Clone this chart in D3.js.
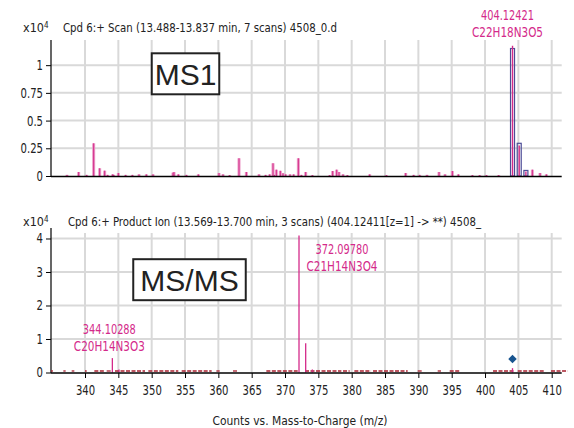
<!DOCTYPE html>
<html>
<head>
<meta charset="utf-8">
<script src="https://cdn.jsdelivr.net/npm/d3@7"></script>
<style>
  body { margin: 0; background: #fff; }
  text { font-family: "Liberation Sans Narrow", "DejaVu Sans Condensed", sans-serif; }
</style>
</head>
<body>
<svg id="chart" width="574" height="428"></svg>
<script>
// x axis (m/z) ticks, shared by both panels
var mzTicks = d3.range(340, 411, 5)
var ms1Ticks = [0, 0.25, 0.5, 0.75, 1]
var ms2Ticks = [0, 1, 2, 3, 4]

// MS1 spectrum, counts in x10^4
var ms1Mz = [337.3, 339.05, 340.25, 341.3, 342.2, 342.95, 343.4, 344.15, 344.3, 345.0,
  346.1, 347.1, 348.1, 349.2, 350.2, 353.2, 353.35, 354.0, 355.2, 357.0,
  360.1, 360.7, 361.7, 363.1, 364.2, 366.1, 367.1, 367.7, 368.2, 368.4,
  368.7, 369.3, 369.7, 370.1, 370.75, 371.3, 372.0, 372.45, 373.1, 374.1,
  376.7, 377.15, 377.75, 378.1, 378.7, 379.35, 382.7, 385.2, 388.1, 389.3,
  390.2, 391.3, 393.1, 394.0, 395.1, 396.0, 398.1, 399.2, 400.2, 402.05,
  407.1, 408.25, 409.2]
var ms1Counts = [0.01, 0.036, 0.01, 0.295, 0.07, 0.048, 0.01, 0.015, 0.01, 0.027,
  0.01, 0.01, 0.015, 0.015, 0.015, 0.03, 0.035, 0.015, 0.01, 0.015,
  0.027, 0.015, 0.008, 0.16, 0.036, 0.015, 0.01, 0.015, 0.115, 0.01,
  0.057, 0.047, 0.025, 0.015, 0.015, 0.015, 0.16, 0.01, 0.036, 0.008,
  0.008, 0.045, 0.057, 0.036, 0.015, 0.008, 0.015, 0.008, 0.027, 0.01,
  0.01, 0.01, 0.036, 0.015, 0.045, 0.015, 0.008, 0.008, 0.008, 0.008,
  0.057, 0.027, 0.015]

// isotope cluster of the compound: predicted (boxes) and found (lines)
var isoMz = [404.124, 405.127, 406.130]
var isoPredicted = [1.15, 0.295, 0.05]
var isoFound = [1.175, 0.275, 0.04]

// MS/MS spectrum, counts in x10^4
var ms2Mz = [344.103, 345.1, 372.098, 373.1, 374.1, 404.12]
var ms2Counts = [0.43, 0.09, 4.09, 0.87, 0.09, 0.13]
var precursorMz = 404.124
var precursorCounts = 0.4

// low baseline noise in the MS/MS trace (m/z ranges)
var noiseFrom = [334.9, 336.75, 338.0, 340.0, 341.4, 343.25, 344.5, 349.5, 354.5, 359.7,
  362.2, 367.2, 373.0, 378.7, 380.4, 383.2, 389.9, 392.9, 394.7, 401.2, 404.9, 409.9]
var noiseTo = [335.2, 337.1, 338.4, 340.25, 343.0, 344.0, 349.0, 354.0, 359.0, 360.2,
  363.0, 371.9, 378.45, 379.7, 382.9, 388.4, 390.7, 393.4, 396.2, 404.4, 408.9, 412.4]

// annotations
var ms1Title = 'Cpd 6:+ Scan (13.488-13.837 min, 7 scans) 4508_0.d'
var ms2Title = 'Cpd 6:+ Product Ion (13.569-13.700 min, 3 scans) (404.12411[z=1] -> **) 4508_'
var ms1Label = ['404.12421', 'C22H18N3O5']
var ms2LabelMz = [372.098, 344.103]
var ms2Labels = [['372.09780', 'C21H14N3O4'], ['344.10288', 'C20H14N3O3']]
var xTitle = 'Counts vs. Mass-to-Charge (m/z)'

var magenta = '#d42a8a'
var pink = '#eb9ac6'
var grid = '#d9d9d9'
var squeeze = 0.8  // the source font is a narrow one

var svg = d3.select('#chart')

var x = d3.scaleLinear().domain([334.9, 411.5]).range([51, 561.7])
var y1 = d3.scaleLinear().domain([0, 1.227]).range([176, 40])
var y2 = d3.scaleLinear().domain([0, 4.313]).range([372.5, 228])

// squeeze a text to the width it has in the picture
function fit (sel, w) {
  sel.attr('textLength', w).attr('lengthAdjust', 'spacingAndGlyphs')
  return sel
}

function drawFrame (y, ticks, top, gridTop) {
  var g = svg.append('g')
  g.selectAll('.vg').data(mzTicks).enter().append('line')
    .attr('x1', d => x(d)).attr('x2', d => x(d))
    .attr('y1', gridTop).attr('y2', y(0))
    .attr('stroke', grid).attr('stroke-width', 2)
  g.selectAll('.hg').data(ticks.slice(1)).enter().append('line')
    .attr('x1', x.range()[0]).attr('x2', x.range()[1])
    .attr('y1', d => y(d)).attr('y2', d => y(d))
    .attr('stroke', grid).attr('stroke-width', 2)

  var ax = g.append('g').attr('transform', 'translate(' + x.range()[0] + ',0)')
    .call(d3.axisLeft(y).tickValues(ticks).tickSize(5).tickPadding(3)
      .tickFormat(d => String(d)))
  ax.select('.domain').remove()
  ax.selectAll('line').attr('stroke', '#000')
  ax.selectAll('text').attr('font-size', 14).attr('fill', '#222')
    .attr('x', -8 / squeeze).attr('transform', 'scale(' + squeeze + ',1)')

  g.append('line').attr('x1', x.range()[0]).attr('x2', x.range()[0])
    .attr('y1', top).attr('y2', y(0) + 0.5).attr('stroke', '#000').attr('stroke-width', 1.2)
  return g
}

function drawTitle (ty, x0, title, w) {
  var t = svg.append('text').attr('x', 23).attr('y', ty).attr('font-size', 12.5).attr('fill', '#222')
  t.append('tspan').text('x10')
  t.append('tspan').attr('dy', -4).attr('font-size', 8).text('4')
  fit(svg.append('text').attr('x', x0).attr('y', ty).attr('font-size', 12.5).attr('fill', '#222').text(title), w)
}

function drawBox (cx, cy, w, h, label) {
  svg.append('rect').attr('x', cx - w / 2).attr('y', cy - h / 2).attr('width', w).attr('height', h)
    .attr('fill', '#fff').attr('stroke', '#222').attr('stroke-width', 2)
  svg.append('text').attr('x', cx).attr('y', cy + 11).attr('text-anchor', 'middle')
    .style('font-family', '"Liberation Sans", Arial, sans-serif')
    .attr('font-size', 30).attr('fill', '#222').text(label)
}

function drawLabel (cx, yTop, lines) {
  fit(svg.append('text').attr('x', cx - 26.5).attr('y', yTop)
    .attr('font-size', 14).attr('fill', magenta).text(lines[0]), 53)
  fit(svg.append('text').attr('x', cx - 35.5).attr('y', yTop + 16.5)
    .attr('font-size', 14).attr('fill', magenta).text(lines[1]), 71)
}

// ---------- MS1 panel ----------
drawFrame(y1, ms1Ticks, 40, 40)
drawTitle(32, 63, ms1Title, 274)

var ms1 = d3.range(ms1Mz.length).map(i => ({ mz: ms1Mz[i], c: ms1Counts[i] }))
svg.append('g').selectAll('rect').data(ms1).enter().append('rect')
  .attr('x', d => x(d.mz) - 1.5).attr('width', 3)
  .attr('y', d => y1(d.c)).attr('height', d => y1(0) - y1(d.c))
  .attr('fill', pink)
svg.append('g').selectAll('line').data(ms1).enter().append('line')
  .attr('x1', d => x(d.mz)).attr('x2', d => x(d.mz))
  .attr('y1', d => y1(d.c)).attr('y2', y1(0))
  .attr('stroke', magenta).attr('stroke-width', 1)

var iso = d3.range(isoMz.length).map(i => ({ mz: isoMz[i], p: isoPredicted[i], f: isoFound[i] }))
svg.append('g').selectAll('rect').data(iso).enter().append('rect')
  .attr('x', d => x(d.mz) - 2).attr('width', 4)
  .attr('y', d => y1(d.p)).attr('height', d => y1(0) - y1(d.p))
  .attr('fill', 'none').attr('stroke', '#4b4b96').attr('stroke-width', 1.2)
svg.append('g').selectAll('line').data(iso).enter().append('line')
  .attr('x1', d => x(d.mz)).attr('x2', d => x(d.mz))
  .attr('y1', d => y1(d.f)).attr('y2', y1(0))
  .attr('stroke', magenta).attr('stroke-width', 1.4)

svg.append('line').attr('x1', x.range()[0]).attr('x2', x.range()[1])
  .attr('y1', y1(0) + 0.5).attr('y2', y1(0) + 0.5).attr('stroke', '#000').attr('stroke-width', 1.5)

drawLabel(x(isoMz[0]) - 5, 20, ms1Label)
drawBox(185.5, 73.8, 67.5, 41, 'MS1')

// ---------- MS/MS panel ----------
drawFrame(y2, ms2Ticks, 228, 233)
drawTitle(226, 68, ms2Title, 413)

var noise = d3.range(noiseFrom.length).map(i => [noiseFrom[i], noiseTo[i]])
svg.append('g').selectAll('line').data(noise).enter().append('line')
  .attr('x1', d => x(d[0])).attr('x2', d => x(d[1]))
  .attr('y1', y2(0.045)).attr('y2', y2(0.045))
  .attr('stroke', '#a8202f').attr('stroke-width', 1.3)
  .attr('stroke-dasharray', '4,1.5')

var ms2 = d3.range(ms2Mz.length).map(i => ({ mz: ms2Mz[i], c: ms2Counts[i] }))
svg.append('g').selectAll('line').data(ms2).enter().append('line')
  .attr('x1', d => x(d.mz)).attr('x2', d => x(d.mz))
  .attr('y1', d => y2(d.c)).attr('y2', y2(0))
  .attr('stroke', magenta).attr('stroke-width', 1.3)

svg.append('path')
  .attr('d', d3.symbol(d3.symbolSquare, 36)())
  .attr('transform', 'translate(' + x(precursorMz) + ',' + y2(precursorCounts) + ') rotate(45)')
  .attr('fill', '#17548f')

var xa = svg.append('g').attr('transform', 'translate(0,' + (y2(0) + 0.5) + ')')
  .call(d3.axisBottom(x).tickValues(mzTicks).tickSize(5).tickPadding(7))
xa.select('.domain').attr('stroke', '#000').attr('stroke-width', 1.5)
  .attr('d', 'M' + x.range()[0] + ',0H' + x.range()[1])
xa.selectAll('line').attr('stroke', '#000')
xa.selectAll('text').attr('font-size', 14).attr('fill', '#222')
  .attr('transform', 'scale(' + squeeze + ',1)')

drawLabel(x(ms2LabelMz[0]) + 43, 254, ms2Labels[0])
drawLabel(x(ms2LabelMz[1]) - 3, 334, ms2Labels[1])
drawBox(189.5, 279.7, 112.5, 41, 'MS/MS')

fit(svg.append('text').attr('x', 212.5).attr('y', 425)
  .attr('font-size', 13).attr('fill', '#222').text(xTitle), 175)
</script>
</body>
</html>
